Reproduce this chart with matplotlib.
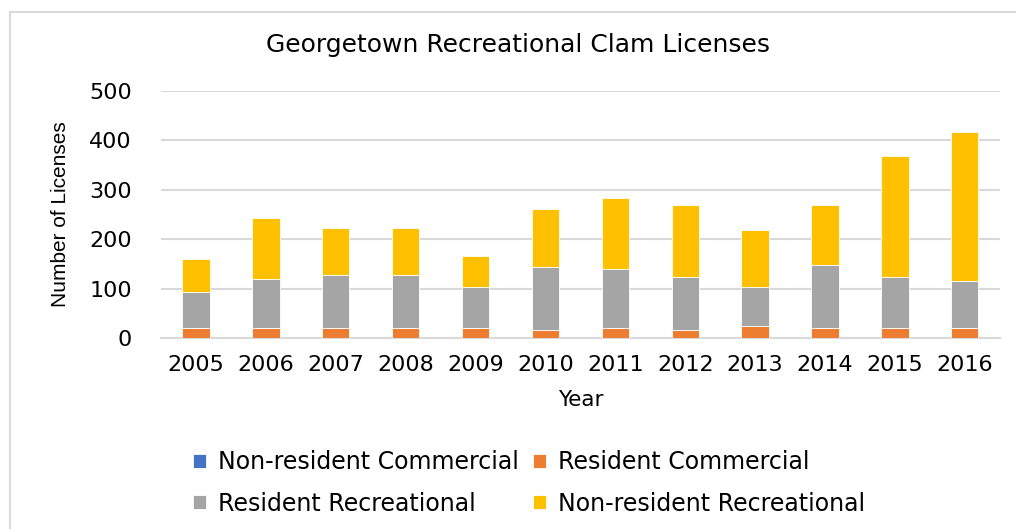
import matplotlib
matplotlib.use('Agg')
import matplotlib.pyplot as plt
import numpy as np
from matplotlib.patches import Rectangle

# --- data ---
years = ['2005', '2006', '2007', '2008', '2009', '2010',
         '2011', '2012', '2013', '2014', '2015', '2016']
nonres_comm = [0, 0, 0, 0, 0, 0, 0, 0, 0, 0, 0, 0]
res_comm = [20, 20, 20, 20, 20, 16, 20, 16, 24, 20, 20, 20]
res_rec = [73, 99, 107, 107, 84, 127, 119, 107, 80, 127, 103, 96]
nonres_rec = [68, 123, 96, 96, 62, 118, 145, 146, 115, 122, 245, 301]

series_names = ['Non-resident Commercial', 'Resident Commercial',
                'Resident Recreational', 'Non-resident Recreational']
colors = ['#4472C4', '#ED7D31', '#A5A5A5', '#FFC000']

# wide font: the reference text is set quite wide
plt.rcParams['font.family'] = ['DejaVu Sans']

fig = plt.figure(figsize=(10.16, 5.29), dpi=100)
ax = fig.add_axes([0.1585, 0.3605, 0.8255, 0.4681])

# chart-area frame (cropped at right and bottom in the reference)
fig.patches.append(Rectangle((10 / 1016, -0.1), 1.2, 1 - 12 / 529 + 0.1,
                             transform=fig.transFigure, fill=False,
                             edgecolor='#D9D9D9', linewidth=1.5))

x = np.arange(len(years))
bottom = np.zeros(len(years))
bars = []
for vals, name, c in zip([nonres_comm, res_comm, res_rec, nonres_rec], series_names, colors):
    b = ax.bar(x, vals, width=0.39, bottom=bottom, color=c, label=name,
               edgecolor='white', linewidth=0.6, zorder=3)
    bars.append(b)
    bottom += np.array(vals)

ax.set_xlim(-0.5, len(years) - 0.5)
ax.set_ylim(0, 500)
ax.set_yticks([0, 100, 200, 300, 400, 500])
ax.set_xticks(x)
ax.set_xticklabels(years)
ax.yaxis.grid(True, color='#D9D9D9', linewidth=1.5, zorder=0)
for s in ['top', 'right', 'left']:
    ax.spines[s].set_visible(False)
ax.spines['bottom'].set_color('#D9D9D9')
ax.spines['bottom'].set_linewidth(1.5)
ax.tick_params(axis='both', length=0, labelsize=16)
ax.tick_params(axis='y', pad=21)
ax.tick_params(axis='x', pad=12)

ax.set_xlabel('Year', fontsize=15.5, labelpad=11)
ax.set_ylabel('Number of Licenses', fontsize=15, labelpad=14,
              family=['Liberation Sans'])

fig.text(518 / 1016, 1 - 45 / 529, 'Georgetown Recreational Clam Licenses',
         ha='center', va='center', fontsize=18)

# legend filled row by row like the reference
order = [0, 2, 1, 3]
fig.legend([bars[i] for i in order], [series_names[i] for i in order],
           loc='center', bbox_to_anchor=(529 / 1016, 1 - 483 / 529), ncol=2,
           frameon=False, fontsize=17, handlelength=0.55, handleheight=0.55,
           handletextpad=0.5, columnspacing=0.6, labelspacing=0.74)

fig.savefig('out.png', dpi=100)
